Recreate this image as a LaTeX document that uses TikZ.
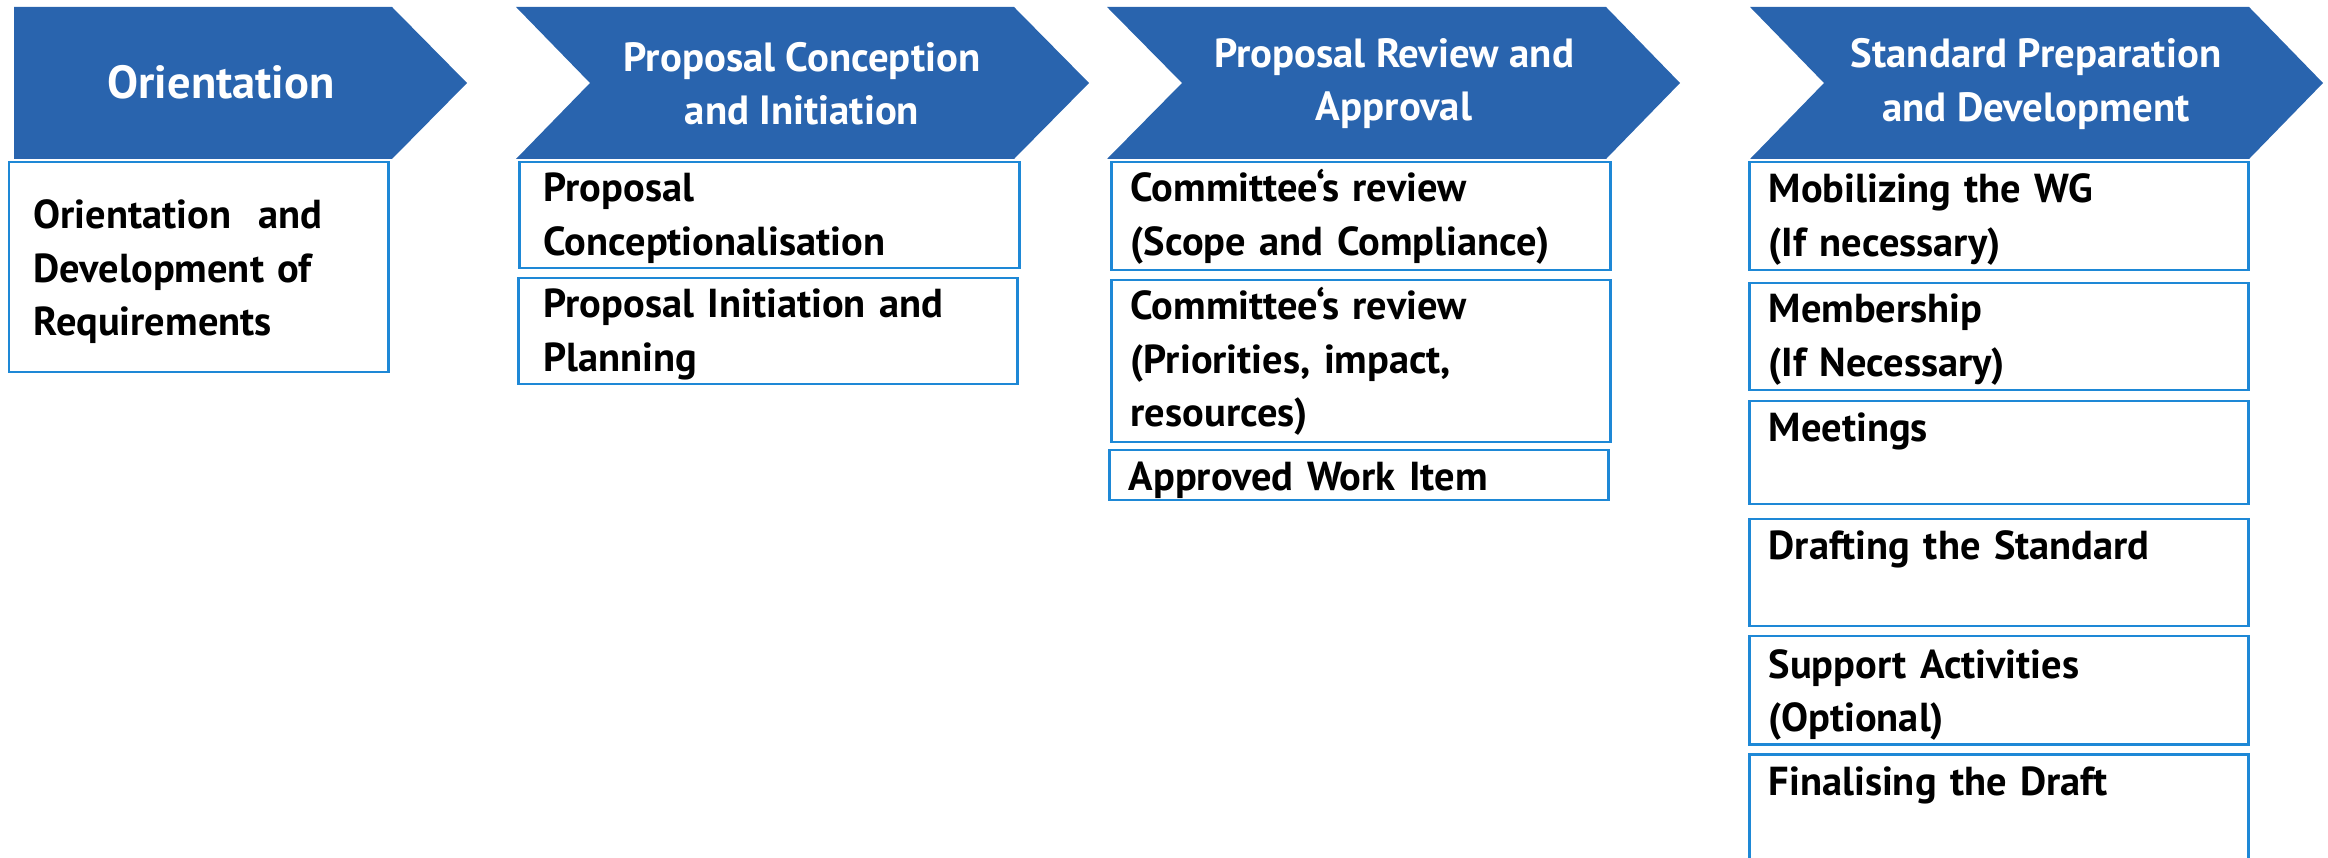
\documentclass[tikz,border=0pt]{standalone}
\usepackage{fontspec}
\setmainfont{PT Sans}
\usepackage{tikz}
\definecolor{phaseblue}{RGB}{41,100,174}
\definecolor{boxblue}{RGB}{30,136,214}
\tikzset{
	phase/.style={fill=phaseblue, draw=none},
	phasetext/.style={text=white, font=\bfseries\fontsize{11.6}{15.1}\selectfont, align=center, inner sep=0pt},
	itembox/.style={draw=boxblue, line width=0.85pt},
	itemtext/.style={font=\bfseries\fontsize{11.5}{15.1}\selectfont, align=left, text width=#1, inner sep=0pt, anchor=base west},
	itemtext/.default=4.6cm
}

\begin{document}
\begin{tikzpicture}[x=0.01cm, y=-0.01cm]
			%%%%% START %%%%%
			\useasboundingbox (0, 0) rectangle (2328, 858);
			
			% the four phases
			\fill[phase] (14, 7) -- (392, 7) -- (467, 83) -- (392, 159) -- (14, 159) -- cycle;
			\fill[phase] (516, 7) -- (1014, 7) -- (1089, 83) -- (1014, 159) -- (516, 159) -- (590, 83) -- cycle;
			\fill[phase] (1107, 7) -- (1606, 7) -- (1680, 83) -- (1606, 159) -- (1107, 159) -- (1182, 83) -- cycle;
			\fill[phase] (1750, 7) -- (2249, 7) -- (2323, 83) -- (2249, 159) -- (1750, 159) -- (1824, 83) -- cycle;
			
			\node[phasetext, font=\bfseries\fontsize{13.2}{15.1}\selectfont] (orient) at (221, 82) {Orientation};
			\node[phasetext] (concept) at (802, 84) {Proposal Conception\\and Initiation};
			\node[phasetext] (review) at (1394, 84) {Proposal Review and\\Approval};
			\node[phasetext] (prepare) at (2036, 84) {Standard Preparation\\and Development};
			
			% first column
			\draw[itembox] (9, 162) rectangle (388, 372);
			\node[itemtext] (req) at (33, 229) {Orientation\ \ and\\Development of\\Requirements};
			
			% second column
			\draw[itembox] (519, 162) rectangle (1019, 268);
			\node[itemtext] (concepting) at (543, 202) {Proposal\\Conceptionalisation};
			\draw[itembox] (518, 278) rectangle (1017, 384);
			\node[itemtext] (planning) at (543, 318) {Proposal Initiation and\\Planning};
			
			% third column
			\draw[itembox] (1111, 162) rectangle (1610, 270);
			\node[itemtext] (scope) at (1130, 202) {Committee‘s review\\(Scope and Compliance)};
			\draw[itembox] (1111, 280) rectangle (1610, 442);
			\node[itemtext] (prio) at (1130, 320) {Committee‘s review\\(Priorities, impact,\\resources)};
			\draw[itembox] (1109, 450) rectangle (1608, 500);
			\node[itemtext] (approved) at (1128, 490) {Approved Work Item};
			
			% fourth column
			\draw[itembox] (1749, 162) rectangle (2248, 270);
			\node[itemtext] (mobil) at (1768, 203) {Mobilizing the WG\\(If necessary)};
			\draw[itembox] (1749, 283) rectangle (2248, 390);
			\node[itemtext] (member) at (1768, 323) {Membership\\(If Necessary)};
			\draw[itembox] (1749, 401) rectangle (2248, 504);
			\node[itemtext] (meet) at (1768, 442) {Meetings};
			\draw[itembox] (1749, 519) rectangle (2248, 626);
			\node[itemtext] (draft) at (1768, 559) {Drafting the Standard};
			\draw[itembox] (1749, 636) rectangle (2248, 744);
			\node[itemtext] (support) at (1768, 678) {Support Activities\\(Optional)};
			\draw[itembox] (1749, 858) -- (1749, 754) -- (2248, 754) -- (2248, 858);
			\node[itemtext] (final) at (1768, 795) {Finalising the Draft};
			
			%%%%% END %%%%%
\end{tikzpicture}
\end{document}
